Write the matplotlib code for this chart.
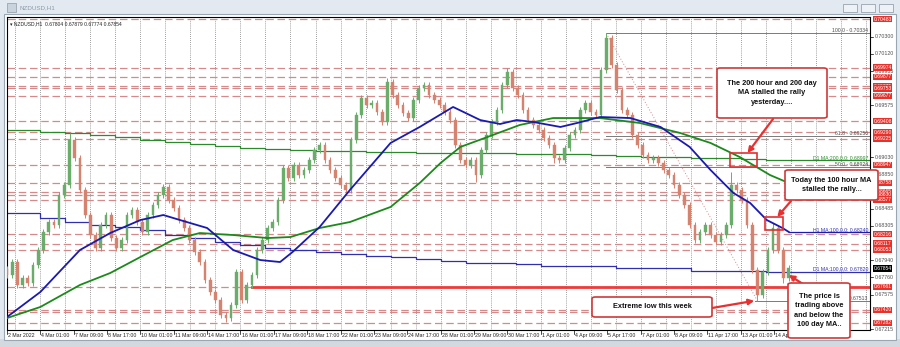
import matplotlib
matplotlib.use("Agg")
import matplotlib.pyplot as plt
from matplotlib.patches import Rectangle, FancyBboxPatch
from matplotlib.transforms import blended_transform_factory

plt.rcParams['font.family'] = ['Liberation Sans', 'DejaVu Sans']

# ---------------- data ----------------
BAR_STEP = 5          # hours represented by one drawn candle
closes = [
    0.67785, 0.67922, 0.67680, 0.67753, 0.67701, 0.67891, 0.68049, 0.68239, 0.68344, 0.68313,
    0.68629, 0.68735, 0.69209, 0.69019, 0.68682, 0.68418, 0.68207, 0.68070, 0.68313, 0.68418,
    0.68175, 0.68070, 0.68154, 0.68418, 0.68471, 0.68344, 0.68239, 0.68418, 0.68524, 0.68629,
    0.68714, 0.68576, 0.68492, 0.68365, 0.68281, 0.68154, 0.68028, 0.67922, 0.67732, 0.67606,
    0.67521, 0.67363, 0.67331, 0.67469, 0.67817, 0.67521, 0.67680, 0.67785, 0.68049, 0.68154,
    0.68281, 0.68344, 0.68576, 0.68914, 0.68808, 0.68946, 0.68840, 0.68893, 0.68998, 0.69104,
    0.69157, 0.68998, 0.68893, 0.68808, 0.68735, 0.68682, 0.69209, 0.69473, 0.69652, 0.69579,
    0.69600, 0.69505, 0.69399, 0.69821, 0.69684, 0.69579, 0.69494, 0.69441, 0.69631, 0.69758,
    0.69790, 0.69684, 0.69631, 0.69579, 0.69505, 0.69420, 0.69157, 0.68998, 0.68946, 0.68998,
    0.68840, 0.69104, 0.69262, 0.69399, 0.69526, 0.69790, 0.69927, 0.69758, 0.69684, 0.69526,
    0.69420, 0.69368, 0.69315, 0.69230, 0.69157, 0.69019, 0.68998, 0.69125, 0.69262, 0.69315,
    0.69526, 0.69600, 0.69505, 0.69473, 0.69948, 0.70285, 0.70001, 0.69737, 0.69526, 0.69473,
    0.69262, 0.69157, 0.69051, 0.68998, 0.69019, 0.68967, 0.68893, 0.68840, 0.68735, 0.68629,
    0.68524, 0.68313, 0.68154, 0.68239, 0.68313, 0.68207, 0.68133, 0.68207, 0.68313, 0.68735,
    0.68682, 0.68576, 0.68313, 0.67838, 0.67574, 0.67817, 0.68049, 0.68281, 0.68049, 0.67753,
    0.67854,
]
first_open = 0.67850
spike_highs = {12: 0.69283, 73: 0.69863, 96: 0.69969, 115: 0.70334, 139: 0.68872, 147: 0.68334}
spike_lows = {42: 0.67289, 65: 0.68650, 90: 0.68766, 105: 0.68967, 144: 0.67513, 149: 0.67701}

h1_ma100_hours = [0, 32, 70, 99, 128, 150, 166, 192, 217, 243, 262, 274, 300, 329, 368, 396, 428,
                  454, 473, 489, 505, 531, 547, 569, 598, 627, 655, 675, 697, 713, 729, 744, 750]
h1_ma100 = [0.67342, 0.67606, 0.68049, 0.68228, 0.68365, 0.68418, 0.68365, 0.68281, 0.68049,
            0.67943, 0.67922, 0.68028, 0.68292, 0.68682, 0.69178, 0.69347, 0.69558, 0.69420,
            0.69378, 0.69420, 0.69399, 0.69347, 0.69389, 0.69452, 0.69441, 0.69347, 0.69136,
            0.68893, 0.68650, 0.68545, 0.68365, 0.68281, 0.68240]

h1_ma200_hours = [0, 32, 70, 99, 128, 159, 185, 217, 250, 272, 300, 329, 368, 396, 416, 435,
                  461, 492, 524, 569, 607, 646, 675, 703, 732, 750]
h1_ma200 = [0.67331, 0.67448, 0.67680, 0.67806, 0.67975, 0.68154, 0.68228, 0.68207, 0.68175,
            0.68186, 0.68281, 0.68344, 0.68503, 0.68756, 0.68967, 0.69136, 0.69241, 0.69368,
            0.69441, 0.69441, 0.69389, 0.69283, 0.69178, 0.69030, 0.68840, 0.68756]

d1_ma200_daily = [0.69315, 0.69315, 0.69294, 0.69283, 0.69262, 0.69241, 0.69209, 0.69188,
                  0.69167, 0.69146, 0.69125, 0.69114, 0.69104, 0.69093, 0.69093, 0.69083,
                  0.69083, 0.69072, 0.69072, 0.69072, 0.69072, 0.69062, 0.69062, 0.69062,
                  0.69051, 0.69041, 0.69030, 0.69030, 0.69019, 0.69019, 0.69009, 0.68997]
d1_ma100_daily = [0.68439, 0.68439, 0.68386, 0.68344, 0.68313, 0.68292, 0.68260, 0.68207,
                  0.68175, 0.68133, 0.68102, 0.68070, 0.68049, 0.68028, 0.68007, 0.67986,
                  0.67975, 0.67954, 0.67933, 0.67912, 0.67912, 0.67901, 0.67880, 0.67880,
                  0.67880, 0.67859, 0.67859, 0.67859, 0.67827, 0.67827, 0.67827, 0.67820]

red_levels = [0.70483, 0.69974, 0.69877, 0.69775, 0.69753, 0.69677, 0.69408, 0.69290, 0.69225,
              0.68947, 0.68758, 0.68665, 0.68630, 0.68577, 0.68216, 0.68117, 0.68053, 0.67661,
              0.67420, 0.67282]
red_extra_levels = [0.67395]
grey_ticks = [0.70300, 0.70120, 0.69935, 0.69575, 0.69030, 0.68850, 0.68485, 0.68305,
              0.67940, 0.67760, 0.67575, 0.67215]
current_price = 0.67854
support_level = 0.67661
fib_names = ['100.0', '61.8', '50.0', '0.0']
fib_values = [0.70334, 0.69256, 0.68924, 0.67513]

date_labels = ["2 Mar 2022", "4 Mar 01:00", "7 Mar 09:00", "8 Mar 17:00", "10 Mar 01:00",
               "11 Mar 09:00", "14 Mar 17:00", "16 Mar 01:00", "17 Mar 09:00", "18 Mar 17:00",
               "22 Mar 01:00", "23 Mar 09:00", "24 Mar 17:00", "28 Mar 01:00", "29 Mar 09:00",
               "30 Mar 17:00", "1 Apr 01:00", "4 Apr 09:00", "5 Apr 17:00", "7 Apr 01:00",
               "8 Apr 09:00", "11 Apr 17:00", "13 Apr 01:00", "14 Apr 09:00"]
LABEL_EVERY = 32
DAY = 24
DAY_OFFSET = 8

# ---------------- figure ----------------
W, H = 900, 347
fig = plt.figure(figsize=(W / 100, H / 100), dpi=100)
fig.patch.set_facecolor('#e3e9f0')


def fx(x):
    return x / W


def fy(y):
    return 1 - y / H


def fig_rect(x0, y0, x1, y1, **kw):
    r = Rectangle((fx(x0), fy(y1)), fx(x1) - fx(x0), fy(y0) - fy(y1),
                  transform=fig.transFigure, **kw)
    fig.add_artist(r)
    return r


# window frame
fig_rect(0, 339, 900, 347, fc='#d4d9e0', ec='none', zorder=-5)
fig_rect(4, 14, 896, 340, fc='white', ec='#9aa6b2', lw=0.8, zorder=-4)
fig_rect(7, 3, 16, 12, fc='#c9d3de', ec='#8e9aa6', lw=0.5, zorder=-3)
fig.text(fx(19), fy(8), 'NZDUSD,H1', fontsize=4.5, color='#8d99a6', va='center')
for bx in (843, 861, 879):
    fig_rect(bx, 4, bx + 14, 12, fc='#eef1f5', ec='#98a3ae', lw=0.6, zorder=-3)

ax = fig.add_axes([fx(7), fy(330), (870 - 7) / W, (330 - 17) / H])
XMAX = 828
ax.set_xlim(0, XMAX)
ax.set_ylim(0.67205, 0.70507)
ax.set_xticks([])
ax.set_yticks([])
for s in ax.spines.values():
    s.set_color('black')
    s.set_linewidth(0.8)

# vertical day grid
h = DAY_OFFSET
while h < XMAX:
    ax.axvline(h, color='#444444', lw=0.5, ls=(0, (1, 2)), zorder=1)
    h += DAY

# red dashed levels
for p in red_levels + red_extra_levels:
    ax.axhline(p, color='#d48a8a', lw=0.9, ls=(0, (6, 3)), zorder=1.5)

# fib lines
peak_h = 115 * BAR_STEP
low_h = 144 * BAR_STEP
for name, val in zip(fib_names, fib_values):
    if name == '0.0':
        ax.plot([low_h - 2, XMAX], [val, val], color='#7a7a7a', lw=0.7, zorder=1.6)
        ax.text(XMAX - 2, val, f'-{val:.5f}', ha='right', va='bottom', fontsize=3.7,
                color='#4a4a4a', zorder=2)
    else:
        ax.plot([peak_h, XMAX], [val, val], color='#7a7a7a', lw=0.7, zorder=1.6)
        ax.text(XMAX - 2, val, f'{name} - {val:.5f}', ha='right', va='bottom', fontsize=3.7,
                color='#4a4a4a', zorder=2)
ax.plot([peak_h, low_h], [fib_values[0], fib_values[3]], color='#d48a8a', lw=0.7,
        ls=(0, (1, 2)), zorder=1.6)

# thick support line
ax.plot([235, XMAX], [support_level, support_level], color='#ee3b3b', lw=2.0, zorder=2)

# D1 moving averages (daily steps)
edges = [0] + [DAY_OFFSET + DAY * j for j in range(len(d1_ma200_daily) - 1)] + [XMAX]
ax.step(edges, d1_ma200_daily + [d1_ma200_daily[-1]], where='post', color='#2c8a2c', lw=0.9, zorder=2.5)
ax.step(edges, d1_ma100_daily + [d1_ma100_daily[-1]], where='post', color='#2f2fb0', lw=0.9, zorder=2.5)

# candles
opens = [first_open] + closes[:-1]
WICK = 0.00035
for k, (o, c) in enumerate(zip(opens, closes)):
    hx = k * BAR_STEP
    col = '#6aad6a' if c >= o else '#d5826f'
    hi = spike_highs.get(k, max(o, c) + WICK)
    lo = spike_lows.get(k, min(o, c) - WICK)
    ax.vlines(hx, lo, hi, color=col, lw=0.7, zorder=3)
    ax.add_patch(Rectangle((hx - 1.3, min(o, c)), 2.6, max(abs(c - o), 0.00004),
                           fc=col, ec=col, lw=0.3, zorder=3))

# H1 moving averages
ax.plot(h1_ma200_hours, h1_ma200, color='#1b8a1b', lw=1.3, zorder=4)
ax.plot([h1_ma200_hours[-1], XMAX], [h1_ma200[-1]] * 2, color='#1b8a1b', lw=0.9, zorder=4)
ax.plot(h1_ma100_hours, h1_ma100, color='#1a1ab0', lw=1.3, zorder=4)
ax.plot([h1_ma100_hours[-1], XMAX], [h1_ma100[-1]] * 2, color='#1a1ab0', lw=0.9, zorder=4)

ax.text(XMAX - 2, d1_ma200_daily[-1], f'D1 MA:200,0,0: {d1_ma200_daily[-1]:.5f}', ha='right',
        va='bottom', fontsize=3.7, color='#2c8a2c', zorder=5)
ax.text(XMAX - 2, h1_ma100[-1], f'H1 MA:100,0,0: {h1_ma100[-1]:.5f}', ha='right',
        va='bottom', fontsize=3.7, color='#2f2fb0', zorder=5)
ax.text(XMAX - 2, d1_ma100_daily[-1], f'D1 MA:100,0,0: {d1_ma100_daily[-1]:.5f}', ha='right',
        va='bottom', fontsize=3.7, color='#2f2fb0', zorder=5)

# header text
ax.text(0.003, 0.985, '\u25be NZDUSD,H1  0.67804 0.67879 0.67774 0.67854', transform=ax.transAxes,
        va='top', ha='left', fontsize=3.6, color='#222222', zorder=5)

# right price scale
ty = blended_transform_factory(ax.transAxes, ax.transData)
for p in grey_ticks:
    ax.plot([1.0, 1.004], [p, p], transform=ty, color='black', lw=0.5, clip_on=False)
    ax.text(1.006, p, f'{p:.5f}', transform=ty, fontsize=3.8, color='#505050',
            va='center', ha='left', clip_on=False)
for p in red_levels:
    ax.text(1.004, p, f'{p:.5f}', transform=ty, fontsize=3.6, color='white', va='center',
            ha='left', clip_on=False, zorder=6,
            bbox=dict(boxstyle='square,pad=0.12', fc='#e8312b', ec='none'))
ax.text(1.004, current_price, f'{current_price:.5f}', transform=ty, fontsize=3.6, color='white',
        va='center', ha='left', clip_on=False, zorder=7,
        bbox=dict(boxstyle='square,pad=0.12', fc='black', ec='none'))

# time scale
tx = blended_transform_factory(ax.transData, ax.transAxes)
for i, lab in enumerate(date_labels):
    hx = i * LABEL_EVERY
    ax.plot([hx, hx], [0, -0.012], transform=tx, color='black', lw=0.5, clip_on=False)
    ax.text(hx + 1, -0.01, lab, transform=tx, fontsize=3.8, color='#222222', va='top',
            ha='left', clip_on=False)

# marker squares
sq1 = (706.5, 0.68998, 13.0, 0.00074)
sq2 = (736.0, 0.68328, 8.7, 0.00069)
for cxh, cyp, dh, dp in (sq1, sq2):
    ax.add_patch(Rectangle((cxh - dh, cyp - dp), 2 * dh, 2 * dp, fc='none', ec='#e03030',
                           lw=1.2, zorder=6))


# annotation boxes
def note_box(x0, y0, x1, y1, text):
    box = FancyBboxPatch((fx(x0), fy(y1)), fx(x1) - fx(x0), fy(y0) - fy(y1),
                         boxstyle='round,pad=0,rounding_size=0.004', transform=fig.transFigure,
                         fc='white', ec='#cf3a3a', lw=1.2, zorder=10)
    fig.add_artist(box)
    fig.text(fx((x0 + x1) / 2), fy((y0 + y1) / 2), text, ha='center', va='center',
             fontsize=5.3, fontweight='bold', linespacing=1.45, color='#111111', zorder=11)


note_box(717, 68, 827, 118, 'The 200 hour and 200 day\nMA stalled the rally\nyesterday....')
note_box(785, 170, 878, 200, 'Today the 100 hour MA\nstalled the rally...')
note_box(592, 297, 712, 317, 'Extreme low this week')
note_box(788, 283, 850, 338, 'The price is\ntrading above\nand below the\n100 day MA..')

arrow_kw = dict(arrowstyle='-|>', color='#e83030', lw=1.6, mutation_scale=8,
                shrinkA=0, shrinkB=0)
arrows = [((773, 119), (sq1[0] + 4, sq1[1] + sq1[3])),
          ((791, 201), (sq2[0] + 3, sq2[1] + sq2[3])),
          ((712, 308), (low_h - 3, spike_lows[144])),
          ((803, 284), (150 * BAR_STEP, 0.67785))]
for (px, py), target in arrows:
    an = ax.annotate('', xy=target, xycoords='data', xytext=(px, H - py),
                     textcoords='figure pixels', arrowprops=arrow_kw, annotation_clip=False)
    an.set_zorder(12)

fig.savefig('out.png', dpi=100, facecolor=fig.get_facecolor())
